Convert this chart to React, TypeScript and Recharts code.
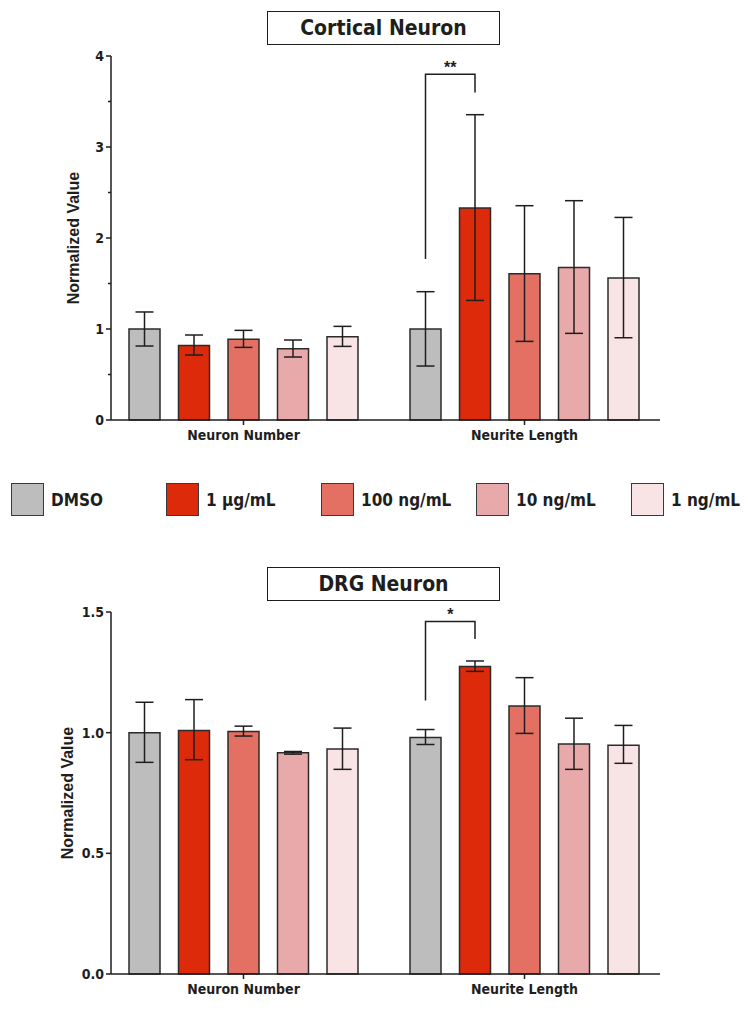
import { BarChart, Bar, XAxis, YAxis, ErrorBar } from "recharts";

const categories = ["Neuron Number", "Neurite Length"];
const groupNames = ["DMSO", "1 µg/mL", "100 ng/mL", "10 ng/mL", "1 ng/mL"];
const seriesKeys = ["dmso", "ug1", "ng100", "ng10", "ng1"];
const groupColors = ["#bdbdbd", "#dc2a0b", "#e37062", "#e8a9ab", "#f9e4e5"];

// Cortical neuron: means and error bar ends, one entry per group
const corticalNumberMean = [1.0, 0.82, 0.886, 0.784, 0.915];
const corticalNumberLow = [0.813, 0.714, 0.798, 0.692, 0.809];
const corticalNumberHigh = [1.187, 0.934, 0.985, 0.879, 1.029];
const corticalLengthMean = [1.0, 2.33, 1.608, 1.677, 1.56];
const corticalLengthLow = [0.593, 1.314, 0.864, 0.952, 0.904];
const corticalLengthHigh = [1.41, 3.355, 2.355, 2.41, 2.226];
const corticalTicks = [0, 0.5, 1, 1.5, 2, 2.5, 3, 3.5, 4];
// bracket: left foot, top, right foot, star level
const corticalBracket = [1.77, 3.8, 3.6, 3.9];

// DRG neuron
const drgNumberMean = [1.0, 1.009, 1.005, 0.917, 0.932];
const drgNumberLow = [0.877, 0.888, 0.986, 0.911, 0.848];
const drgNumberHigh = [1.126, 1.137, 1.027, 0.922, 1.019];
const drgLengthMean = [0.98, 1.274, 1.11, 0.953, 0.948];
const drgLengthLow = [0.951, 1.254, 0.997, 0.848, 0.873];
const drgLengthHigh = [1.013, 1.297, 1.228, 1.06, 1.03];
const drgTicks = [0, 0.5, 1, 1.5];
const drgBracket = [1.133, 1.461, 1.388, 1.498];

const NARROW = "'Liberation Sans Narrow', 'DejaVu Sans Condensed', 'Arial Narrow', sans-serif";
const WIDE = "'Liberation Sans', Arial, sans-serif";
const INK = "#1e1e1e";
const BAR_SIZE = 31;
const BAR_GAP = 18.5;

function buildRows(means: number[][], lows: number[][], highs: number[][]) {
  return categories.map((cat, ci) => {
    const row: any = { category: cat };
    seriesKeys.forEach((k, si) => {
      const m = means[ci][si];
      row[k] = m;
      row[k + "Err"] = [m - lows[ci][si], highs[ci][si] - m];
    });
    return row;
  });
}

const corticalRows = buildRows(
  [corticalNumberMean, corticalLengthMean],
  [corticalNumberLow, corticalLengthLow],
  [corticalNumberHigh, corticalLengthHigh]
);
const drgRows = buildRows(
  [drgNumberMean, drgLengthMean],
  [drgNumberLow, drgLengthLow],
  [drgNumberHigh, drgLengthHigh]
);

const YTick = ({ x, y, payload, format }: any) => {
  const label = format(payload.value);
  const major = label !== "";
  return (
    <g>
      <line x1={x - (major ? 5 : 3)} x2={x} y1={y} y2={y} stroke={INK} strokeWidth={1.5} />
      {major && (
        <text x={x - 7} y={y} dy="0.36em" textAnchor="end" fontFamily={NARROW} fontWeight="bold" fontSize={14} fill={INK}>
          {label}
        </text>
      )}
    </g>
  );
};

// bracket drawn from the DMSO bar of the Neurite Length group to the 1 µg/mL bar
const makeBracket = (levels: number[], stars: string) => (p: any) => {
  const { x, y, width, height, value, index } = p;
  if (index !== 1 || !value) return null;
  const ppu = height / value;
  const base = y + height;
  const py = (v: number) => base - v * ppu;
  const x1 = x + width / 2;
  const x2 = x1 + width + BAR_GAP;
  return (
    <g>
      <polyline
        points={`${x1},${py(levels[0])} ${x1},${py(levels[1])} ${x2},${py(levels[1])} ${x2},${py(levels[2])}`}
        fill="none"
        stroke={INK}
        strokeWidth={1.5}
      />
      <text x={(x1 + x2) / 2} y={py(levels[3])} dy="0.5em" textAnchor="middle" fontFamily={WIDE} fontWeight="bold" fontSize={16} fill={INK}>
        {stars}
      </text>
    </g>
  );
};

function Panel({ rows, ticks, domain, format, bracket, stars, top, marginTop, marginBottom, labelShift }: any) {
  return (
    <div style={{ position: "absolute", left: 0, top }}>
      <BarChart
        width={748}
        height={450}
        data={rows}
        barSize={BAR_SIZE}
        barGap={BAR_GAP}
        margin={{ top: marginTop, right: 88, bottom: marginBottom, left: 71 }}
      >
        <XAxis
          dataKey="category"
          height={30}
          padding={{ left: -8, right: -5 }}
          axisLine={{ stroke: INK, strokeWidth: 1.5 }}
          tickLine={{ stroke: INK, strokeWidth: 1.5 }}
          tickSize={5}
          tickMargin={5}
          tick={{ fill: INK, fontFamily: NARROW, fontWeight: "bold", fontSize: 14 }}
        />
        <YAxis
          width={40}
          domain={domain}
          ticks={ticks}
          interval={0}
          tickSize={0}
          tickMargin={0}
          tickLine={false}
          axisLine={{ stroke: INK, strokeWidth: 1.5 }}
          tick={<YTick format={format} />}
          label={{
            content: ({ viewBox }: any) => {
              const cx = viewBox.x + labelShift;
              const cy = viewBox.y + viewBox.height / 2;
              return (
                <text x={cx} y={cy} transform={`rotate(-90, ${cx}, ${cy})`} textAnchor="middle" dy="0.35em" fontFamily={WIDE} fontWeight="bold" fontSize={16} fill={INK}>
                  Normalized Value
                </text>
              );
            },
          }}
        />
        {seriesKeys.map((k, i) => (
          <Bar
            key={k}
            dataKey={k}
            name={groupNames[i]}
            fill={groupColors[i]}
            stroke="#2b2b2b"
            strokeWidth={1.5}
            isAnimationActive={false}
            label={i === 0 ? makeBracket(bracket, stars) : undefined}
          >
            <ErrorBar dataKey={k + "Err"} width={9} stroke={INK} strokeWidth={1.5} />
          </Bar>
        ))}
      </BarChart>
    </div>
  );
}

function TitleBox({ text, top }: { text: string; top: number }) {
  return (
    <div
      style={{
        position: "absolute",
        left: 267,
        top,
        width: 231,
        height: 32,
        border: `1.5px solid ${INK}`,
        display: "flex",
        alignItems: "center",
        justifyContent: "center",
        fontFamily: NARROW,
        fontWeight: "bold",
        fontSize: 21,
        color: INK,
      }}
    >
      {text}
    </div>
  );
}

function Legend() {
  return (
    <div style={{ position: "absolute", left: 11, top: 483, display: "flex" }}>
      {groupNames.map((g, i) => (
        <div key={g} style={{ display: "flex", alignItems: "center", width: 155 }}>
          <div style={{ width: 31, height: 31, background: groupColors[i], border: "1.5px solid #3a3a3a" }} />
          <span style={{ marginLeft: 7, fontFamily: NARROW, fontWeight: "bold", fontSize: 17, color: INK }}>{g}</span>
        </div>
      ))}
    </div>
  );
}

export default function App() {
  return (
    <div style={{ position: "absolute", left: 0, top: 0, width: 748, height: 1010, background: "#fff", overflow: "hidden" }}>
      <Panel
        rows={corticalRows}
        ticks={corticalTicks}
        domain={[0, 4]}
        format={(v: number) => (Number.isInteger(v) ? String(v) : "")}
        bracket={corticalBracket}
        stars="**"
        top={0}
        marginTop={56}
        marginBottom={0}
        labelShift={2}
      />
      <Panel
        rows={drgRows}
        ticks={drgTicks}
        domain={[0, 1.5]}
        format={(v: number) => v.toFixed(1)}
        bracket={drgBracket}
        stars="*"
        top={560}
        marginTop={52}
        marginBottom={6}
        labelShift={-4}
      />
      <TitleBox text="Cortical Neuron" top={11} />
      <TitleBox text="DRG Neuron" top={567} />
      <Legend />
    </div>
  );
}
